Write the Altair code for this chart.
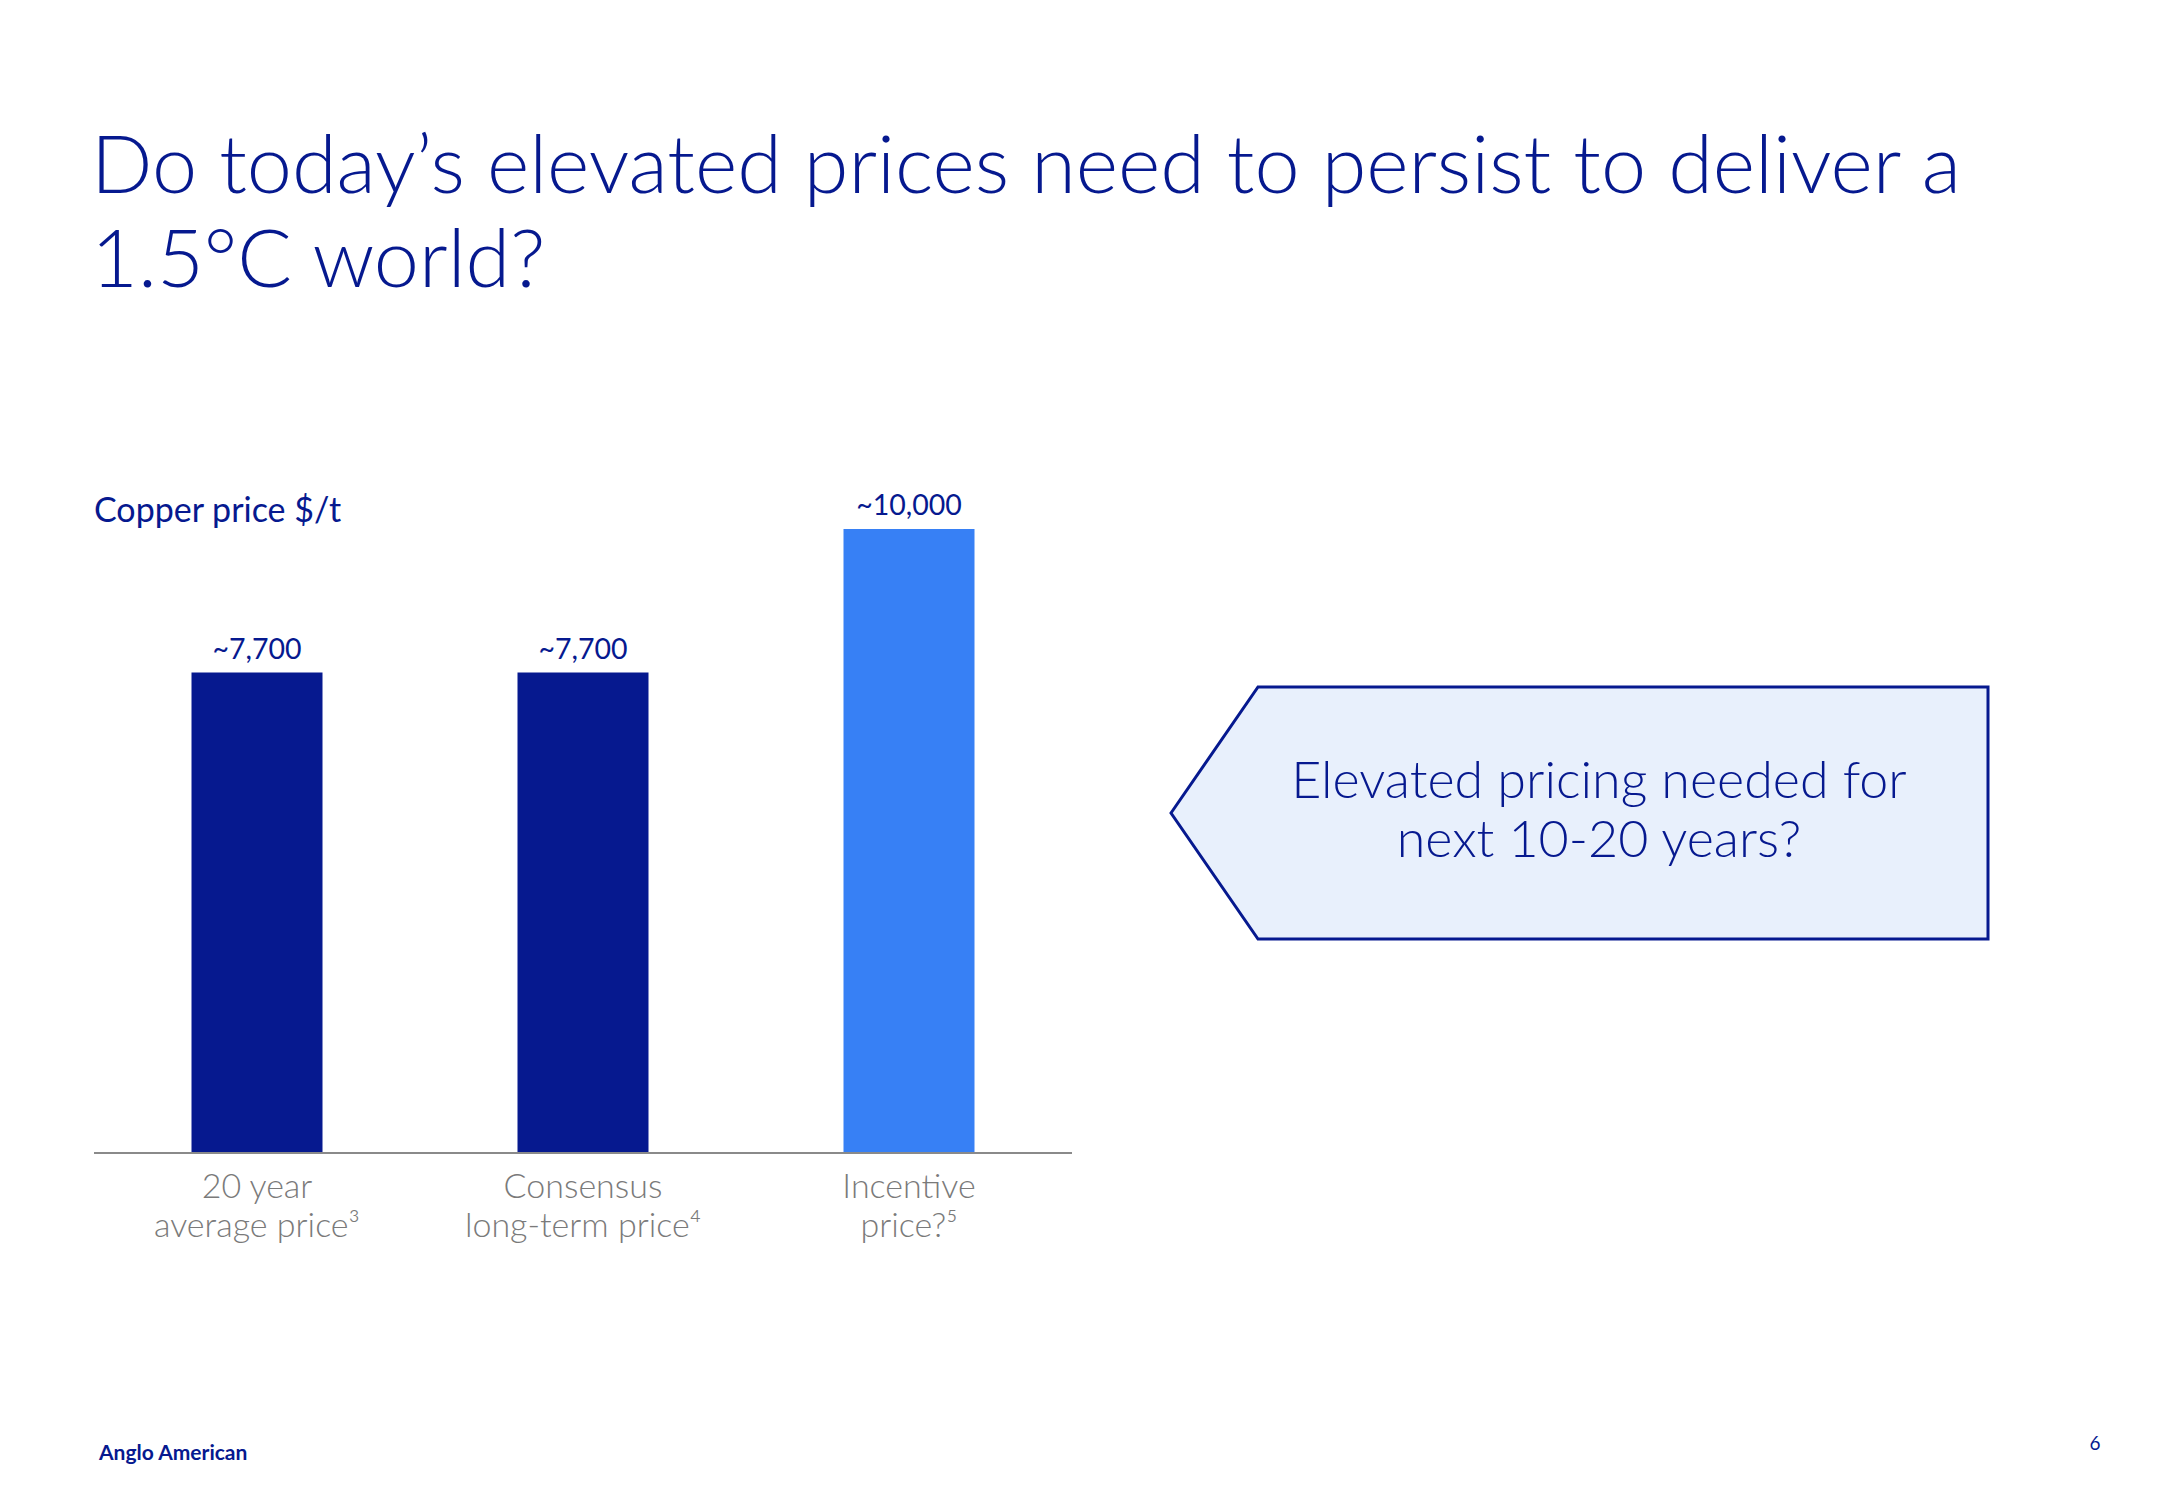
import altair as alt
import pandas as pd

# ---- data ----
categories = ["20 year\naverage price³", "Consensus\nlong-term price⁴", "Incentive\nprice?⁵"]
values = [7700, 7700, 10000]
value_labels = ["~7,700", "~7,700", "~10,000"]
groups = ["benchmark", "benchmark", "incentive"]

title_text = "Do today’s elevated prices need to persist to deliver a\n1.5°C world?"
axis_title = "Copper price $/t"
callout_text = "Elevated pricing needed for\nnext 10-20 years?"
footer_left = "Anglo American"
footer_right = "6"

NAVY = "#06198f"
LIGHT = "#3780f5"
GREY = "#7a7a7a"
FONT = "Lato"

df = pd.DataFrame({"cat": categories, "value": values, "label": value_labels, "group": groups})

xs = alt.Scale(domain=categories, range=[94, 1072], paddingInner=0.6, paddingOuter=0.3)
ys = alt.Scale(domain=[0, 10000], range=[1153, 529])

base = alt.Chart(df)

bars = base.mark_bar(size=131).encode(
    x=alt.X("cat:N", scale=xs, axis=None, sort=categories),
    y=alt.Y("value:Q", scale=ys, axis=None),
    color=alt.Color("group:N", scale=alt.Scale(domain=["benchmark", "incentive"], range=[NAVY, LIGHT]), legend=None),
)

val_text = base.mark_text(font=FONT, fontSize=28.5, color=NAVY, baseline="alphabetic", dy=-14).encode(
    x=alt.X("cat:N", scale=xs, axis=None, sort=categories),
    y=alt.Y("value:Q", scale=ys, axis=None),
    text="label:N",
)

cat_text = base.mark_text(font=FONT, fontSize=34, color=GREY, baseline="alphabetic", lineBreak="\n", lineHeight=39, fontWeight=300).encode(
    x=alt.X("cat:N", scale=xs, axis=None, sort=categories),
    y=alt.value(1198),
    text="cat:N",
)

baseline = base.mark_rule(color="#8a8a8a", strokeWidth=2).encode(
    x=alt.value(94), x2=alt.value(1072), y=alt.value(1153)
)

one = alt.Chart(pd.DataFrame({"t": [title_text]}))

title = one.mark_text(font=FONT, fontSize=81, fontWeight=300, color=NAVY, align="left", baseline="alphabetic",
                      lineBreak="\n", lineHeight=94).encode(
    x=alt.value(91), y=alt.value(193), text=alt.value(title_text)
)

ytitle = one.mark_text(font=FONT, fontSize=34, color=NAVY, align="left", baseline="alphabetic").encode(
    x=alt.value(94), y=alt.value(522), text=alt.value(axis_title)
)

path = "M -1 0 L -0.787 -0.3085 L 1 -0.3085 L 1 0.3085 L -0.787 0.3085 Z"
callout = one.mark_point(shape=path, size=817 * 817, filled=True, fill="#e8f0fc", stroke=NAVY,
                         strokeWidth=3, opacity=1, fillOpacity=1, strokeOpacity=1).encode(
    x=alt.value(1579.5), y=alt.value(813)
)

callout_txt = one.mark_text(font=FONT, fontSize=52, fontWeight=300, color=NAVY, align="center",
                            baseline="alphabetic", lineBreak="\n", lineHeight=59).encode(
    x=alt.value(1599), y=alt.value(798), text=alt.value(callout_text)
)

foot_l = one.mark_text(font=FONT, fontSize=21, fontWeight="bold", color=NAVY, align="left", baseline="alphabetic").encode(
    x=alt.value(99), y=alt.value(1460), text=alt.value(footer_left)
)
foot_r = one.mark_text(font=FONT, fontSize=19, color=NAVY, align="center", baseline="alphabetic").encode(
    x=alt.value(2095), y=alt.value(1450), text=alt.value(footer_right)
)

chart = alt.layer(
    bars, baseline, val_text, cat_text, title, ytitle, callout, callout_txt, foot_l, foot_r
).properties(
    width=2166, height=1500, padding=0, autosize="none", background="white"
).configure_view(stroke=None)

chart.save("out.html", embed_options={"renderer": "svg", "actions": False})
